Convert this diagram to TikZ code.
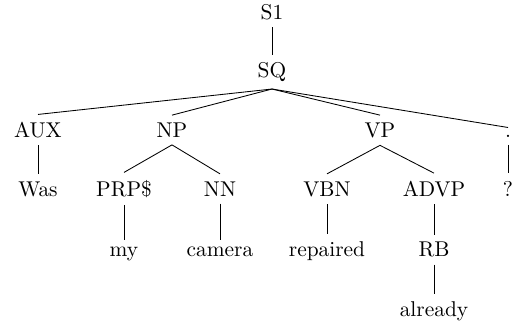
\documentclass[tikz,border=0pt]{standalone}
\usepackage{tikz}
\tikzset{
  every picture/.style={line width=0.4pt},
  tnode/.style={anchor=base, inner sep=3.33pt},
  tedge/.style={draw, line cap=butt},
}

\begin{document}
\begin{tikzpicture}[x=0.4673pt, y=-0.4673pt]
\useasboundingbox (0,0) rectangle (517,325);
% root and clause
\node[tnode] (s1) at (272,19) {S1};
\node[tnode] (sq) at (272,77.3) {SQ};
% phrases
\node[tnode] (aux) at (38,137.3) {AUX};
\node[tnode] (np) at (172,137.3) {NP};
\node[tnode] (vp) at (380,137.3) {VP};
\node[tnode] (pnct) at (508,137.3) {.};
% tags
\node[tnode] (was) at (38,196) {Was};
\node[tnode] (prp) at (124,196) {PRP\$};
\node[tnode] (nn) at (220,196) {NN};
\node[tnode] (vbn) at (327,196) {VBN};
\node[tnode] (advp) at (434,196) {ADVP};
\node[tnode] (qm) at (508,196) {?};
% words
\node[tnode] (my) at (124,256.7) {my};
\node[tnode] (camera) at (220,256.7) {camera};
\node[tnode] (repaired) at (327,256.7) {repaired};
\node[tnode] (rb) at (434,256.7) {RB};
\node[tnode] (already) at (434,316.6) {already};
% edges
\draw[tedge] (s1.south) -- (sq.north);
\draw[tedge] (sq.south) -- (aux.north);
\draw[tedge] (sq.south) -- (np.north);
\draw[tedge] (sq.south) -- (vp.north);
\draw[tedge] (sq.south) -- (pnct.north);
\draw[tedge] (aux.south) -- (was.north);
\draw[tedge] (np.south) -- (prp.north);
\draw[tedge] (np.south) -- (nn.north);
\draw[tedge] (vp.south) -- (vbn.north);
\draw[tedge] (vp.south) -- (advp.north);
\draw[tedge] (pnct.south) -- (qm.north);
\draw[tedge] (prp.south) -- (my.north);
\draw[tedge] (nn.south) -- (camera.north);
\draw[tedge] (vbn.south) -- (repaired.north);
\draw[tedge] (advp.south) -- (rb.north);
\draw[tedge] (rb.south) -- (already.north);
\end{tikzpicture}
\end{document}
